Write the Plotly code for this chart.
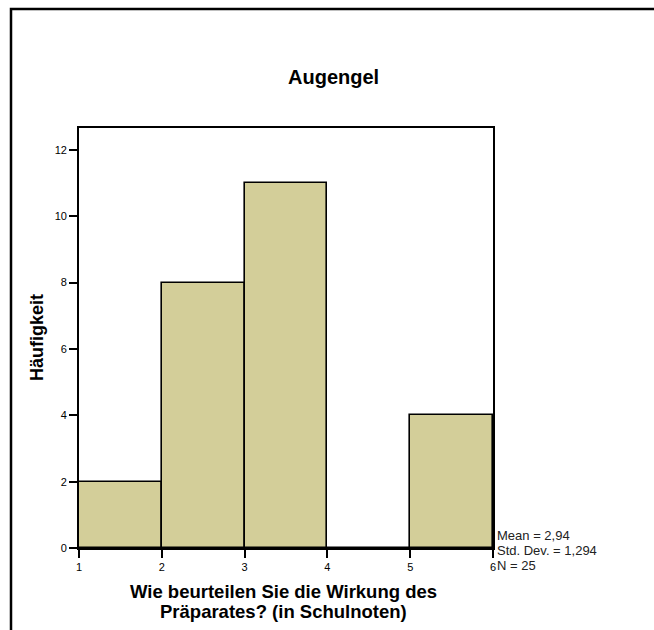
import plotly.graph_objects as go

# Data
bin_starts = [1, 2, 3, 4, 5]
bin_ends = [2, 3, 4, 5, 6]
counts = [2, 8, 11, 0, 4]
x_ticks = [1, 2, 3, 4, 5, 6]
y_ticks = [0, 2, 4, 6, 8, 10, 12]
stats_lines = ["Mean = 2,94", "Std. Dev. = 1,294", "N = 25"]
title_text = "Augengel"
x_title_lines = ["Wie beurteilen Sie die Wirkung des", "Präparates? (in Schulnoten)"]
y_title = "Häufigkeit"

FONT = "Liberation Sans, Arial, Helvetica, sans-serif"
BAR_COLOR = "#D3CE99"

centers = [(a + b) / 2 for a, b in zip(bin_starts, bin_ends)]
widths = [b - a for a, b in zip(bin_starts, bin_ends)]

fig = go.Figure()
fig.add_trace(go.Bar(
    x=centers, y=counts, width=widths,
    marker=dict(color=BAR_COLOR, line=dict(color="black", width=1.6)),
    hoverinfo="skip",
))

W, H = 654, 630
L, R, T, B = 79, 493, 128, 548
pw, ph = R - L, B - T

def px(xp):
    return (xp - L) / pw

def py(yp):
    return (B - yp) / ph

axis_common = dict(
    ticks="outside", ticklen=8, tickwidth=1.5, tickcolor="black",
    showline=True, linecolor="black", linewidth=1.8, mirror=True,
    showgrid=False, zeroline=False, tickfont=dict(size=11, color="black"),
)

fig.update_layout(
    width=W, height=H,
    margin=dict(l=L, r=W - R, t=T, b=H - B, pad=0),
    paper_bgcolor="white", plot_bgcolor="white",
    showlegend=False, bargap=0,
    font=dict(family=FONT, color="black", size=11),
    xaxis=dict(range=[1, 6], tickvals=x_ticks,
               ticktext=[str(v) for v in x_ticks], **axis_common),
    yaxis=dict(range=[0, 12.66], tickvals=y_ticks,
               ticktext=[str(v) for v in y_ticks], **axis_common),
    shapes=[dict(
        type="rect", xref="paper", yref="paper",
        x0=px(11), x1=px(658), y0=py(670), y1=py(9),
        line=dict(color="black", width=2.5), fillcolor="rgba(0,0,0,0)", layer="below",
    )],
)

annotations = [
    dict(text="<b>%s</b>" % title_text, xref="paper", yref="paper",
         x=px(333), y=py(77), xanchor="center", yanchor="middle",
         showarrow=False, font=dict(size=20, color="black")),
    dict(text="<b>%s</b>" % y_title, xref="paper", yref="paper",
         x=px(37), y=py(338), xanchor="center", yanchor="middle", textangle=-90,
         showarrow=False, font=dict(size=18, color="black")),
]
for i, line in enumerate(x_title_lines):
    annotations.append(dict(
        text="<b>%s</b>" % line, xref="paper", yref="paper",
        x=px(283), y=py(591 + 20 * i), xanchor="center", yanchor="middle",
        showarrow=False, font=dict(size=18.5, color="black"),
    ))
for i, line in enumerate(stats_lines):
    annotations.append(dict(
        text=line, xref="paper", yref="paper",
        x=px(495), y=py(535 + 15 * i), xanchor="left", yanchor="middle",
        showarrow=False, font=dict(size=13, color="#222"),
    ))
fig.update_layout(annotations=annotations)

fig.write_html("out.html", config={"displayModeBar": False},
               post_script="document.body.style.margin='0px';")
